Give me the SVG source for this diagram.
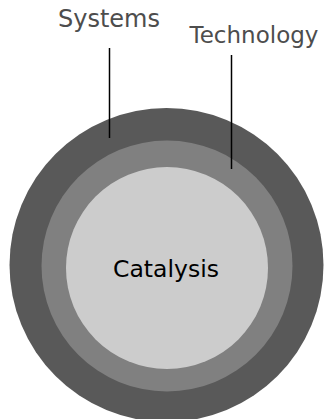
<svg xmlns="http://www.w3.org/2000/svg" width="325" height="419" viewBox="0 0 325 419">
<style>
text{font-family:"DejaVu Sans",Verdana,sans-serif;font-size:23px}
.lbl{fill:#4d4d4d}
.ln{stroke:#000;stroke-width:1.5;fill:none}
</style>
<rect width="325" height="419" fill="#fff"/>
<g id="systems">
<circle cx="166.5" cy="265" r="157" fill="#595959"/>
<text class="lbl" x="109" y="27" text-anchor="middle" style="font-size:24px">Systems</text>
</g>
<g id="technology">
<circle cx="167" cy="266" r="125.5" fill="#808080"/>
<text class="lbl" x="254" y="42.5" text-anchor="middle" style="font-size:23px">Technology</text>
</g>
<g id="catalysis">
<circle cx="167" cy="268" r="101" fill="#cccccc"/>
<text x="166" y="277" text-anchor="middle" fill="#000" style="font-size:23.5px">Catalysis</text>
</g>
<g id="connectors">
<line class="ln" x1="109.5" y1="48" x2="109.5" y2="138"/>
<line class="ln" x1="231.5" y1="55" x2="231.5" y2="169"/>
</g>
</svg>
